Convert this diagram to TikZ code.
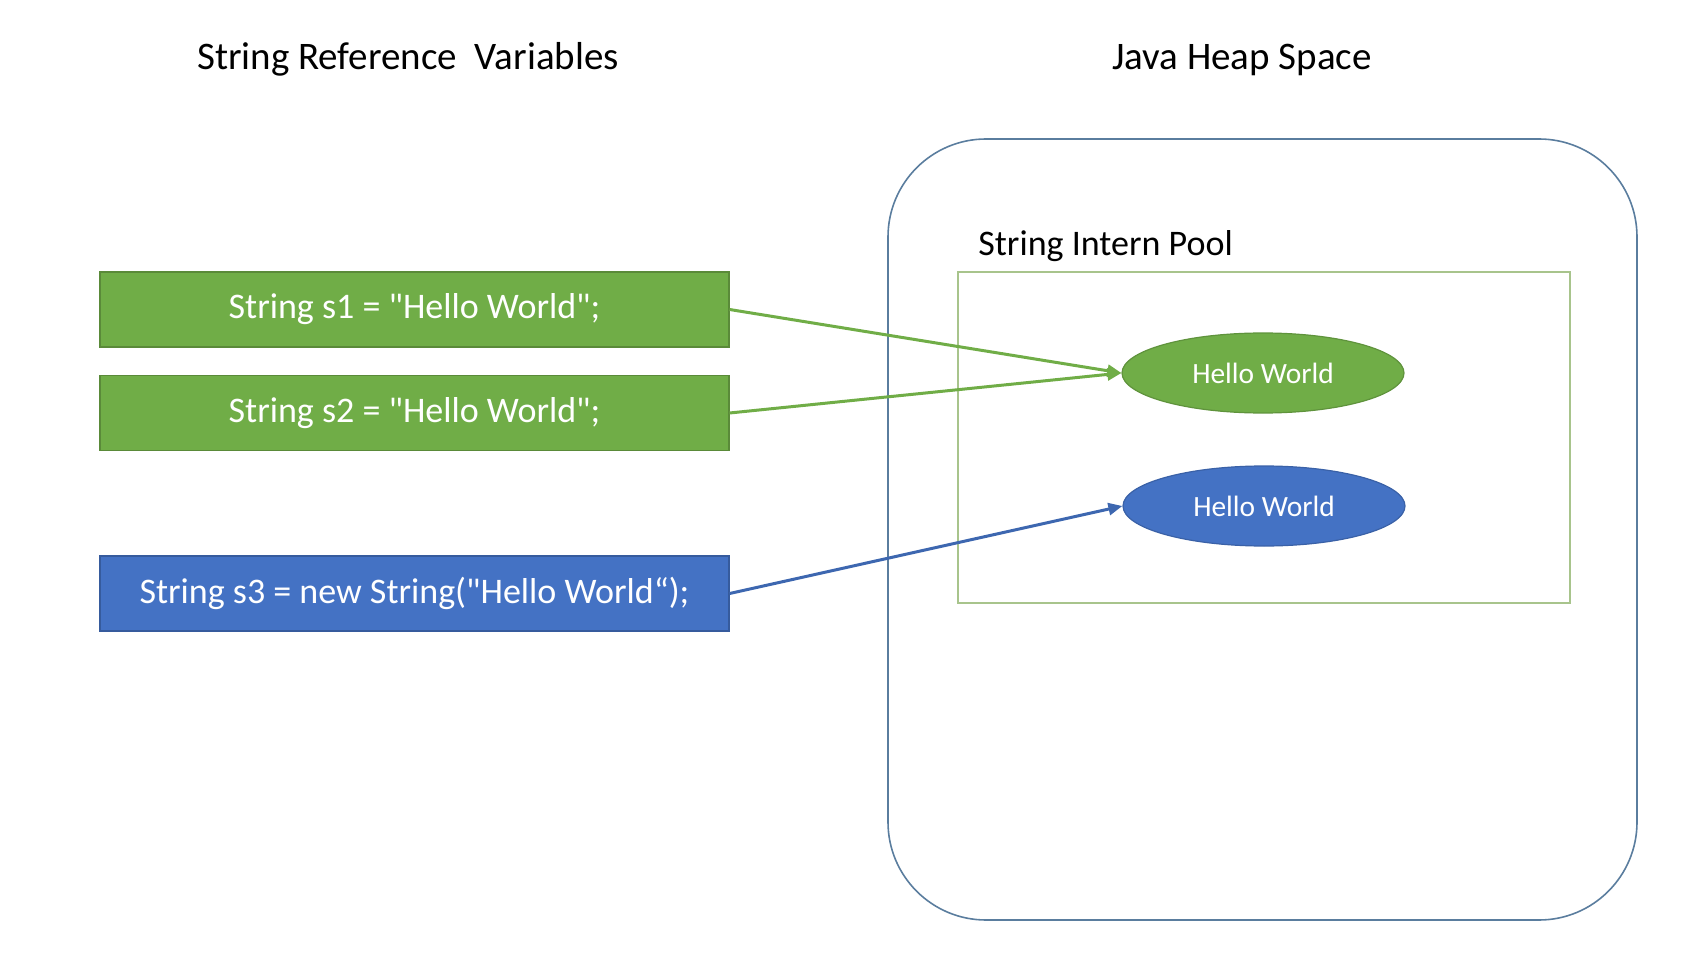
\documentclass[tikz,border=0pt]{standalone}
\usepackage{fontspec}
\setmainfont{Carlito}[Ligatures=TeXOff]
\usetikzlibrary{shapes.geometric,arrows.meta}
\definecolor{litgreen}{HTML}{70AD47}
\definecolor{litblue}{HTML}{4472C4}
\definecolor{heapline}{HTML}{5A7D9E}
\definecolor{poolline}{HTML}{A8C48C}
\tikzset{
  varbox/.style={rectangle,draw,line width=0.6pt,minimum width=314.5pt,minimum height=37.5pt,
    text=white,font=\fontsize{18}{20}\selectfont},
  greenvar/.style={varbox,fill=litgreen,draw=litgreen!80!black},
  bluevar/.style={varbox,fill=litblue,draw=litblue!80!black},
  strobj/.style={ellipse,draw,line width=0.6pt,minimum width=141pt,minimum height=40pt,inner sep=0pt,
    text=white,font=\fontsize{14.7}{16}\selectfont},
  title/.style={inner sep=0pt,font=\fontsize{19.5}{22}\selectfont},
  link/.style={line width=1.5pt,-{Triangle[length=7pt,width=6pt]}}
}
\begin{document}
\begin{tikzpicture}[x=0.5pt,y=-0.5pt]
  \useasboundingbox (0,0) rectangle (1698,968);
  \node[title] (vars) at (408,59.5) {String Reference\ \ Variables};
  \node[title] (heaptitle) at (1242,59.5) {Java Heap Space};
  % heap and pool
  \node[draw=heapline,line width=0.8pt,rounded corners=49pt,minimum width=374.5pt,minimum height=390.5pt] (heap) at (1262.5,529.5) {};
  \node[draw=poolline,line width=0.9pt,minimum width=306pt,minimum height=165.5pt] (pool) at (1264,437.5) {};
  \node[inner sep=0pt,anchor=west,font=\fontsize{18}{20}\selectfont] (poollabel) at (978,246) {String Intern Pool};
  % string objects
  \node[strobj,fill=litgreen,draw=litgreen!85!black] (hw1) at (1263,373) {Hello World};
  \node[strobj,fill=litblue,draw=litblue!85!black] (hw2) at (1264,506) {Hello World};
  % reference variables
  \node[greenvar] (s1) at (414.5,309.5) {String s1 = "Hello World";};
  \node[greenvar] (s2) at (414.5,413) {String s2 = "Hello World";};
  \node[bluevar] (s3) at (414.5,593.5) {String s3 = new String("Hello World“);};
  \begin{scope}[link]
    \draw[litgreen] (s1.east) to (hw1.west);
    \draw[litgreen] (s2.east) to (hw1.west);
    \draw[litblue!90!black] (s3.east) to (hw2.west);
  \end{scope}
\end{tikzpicture}
\end{document}
